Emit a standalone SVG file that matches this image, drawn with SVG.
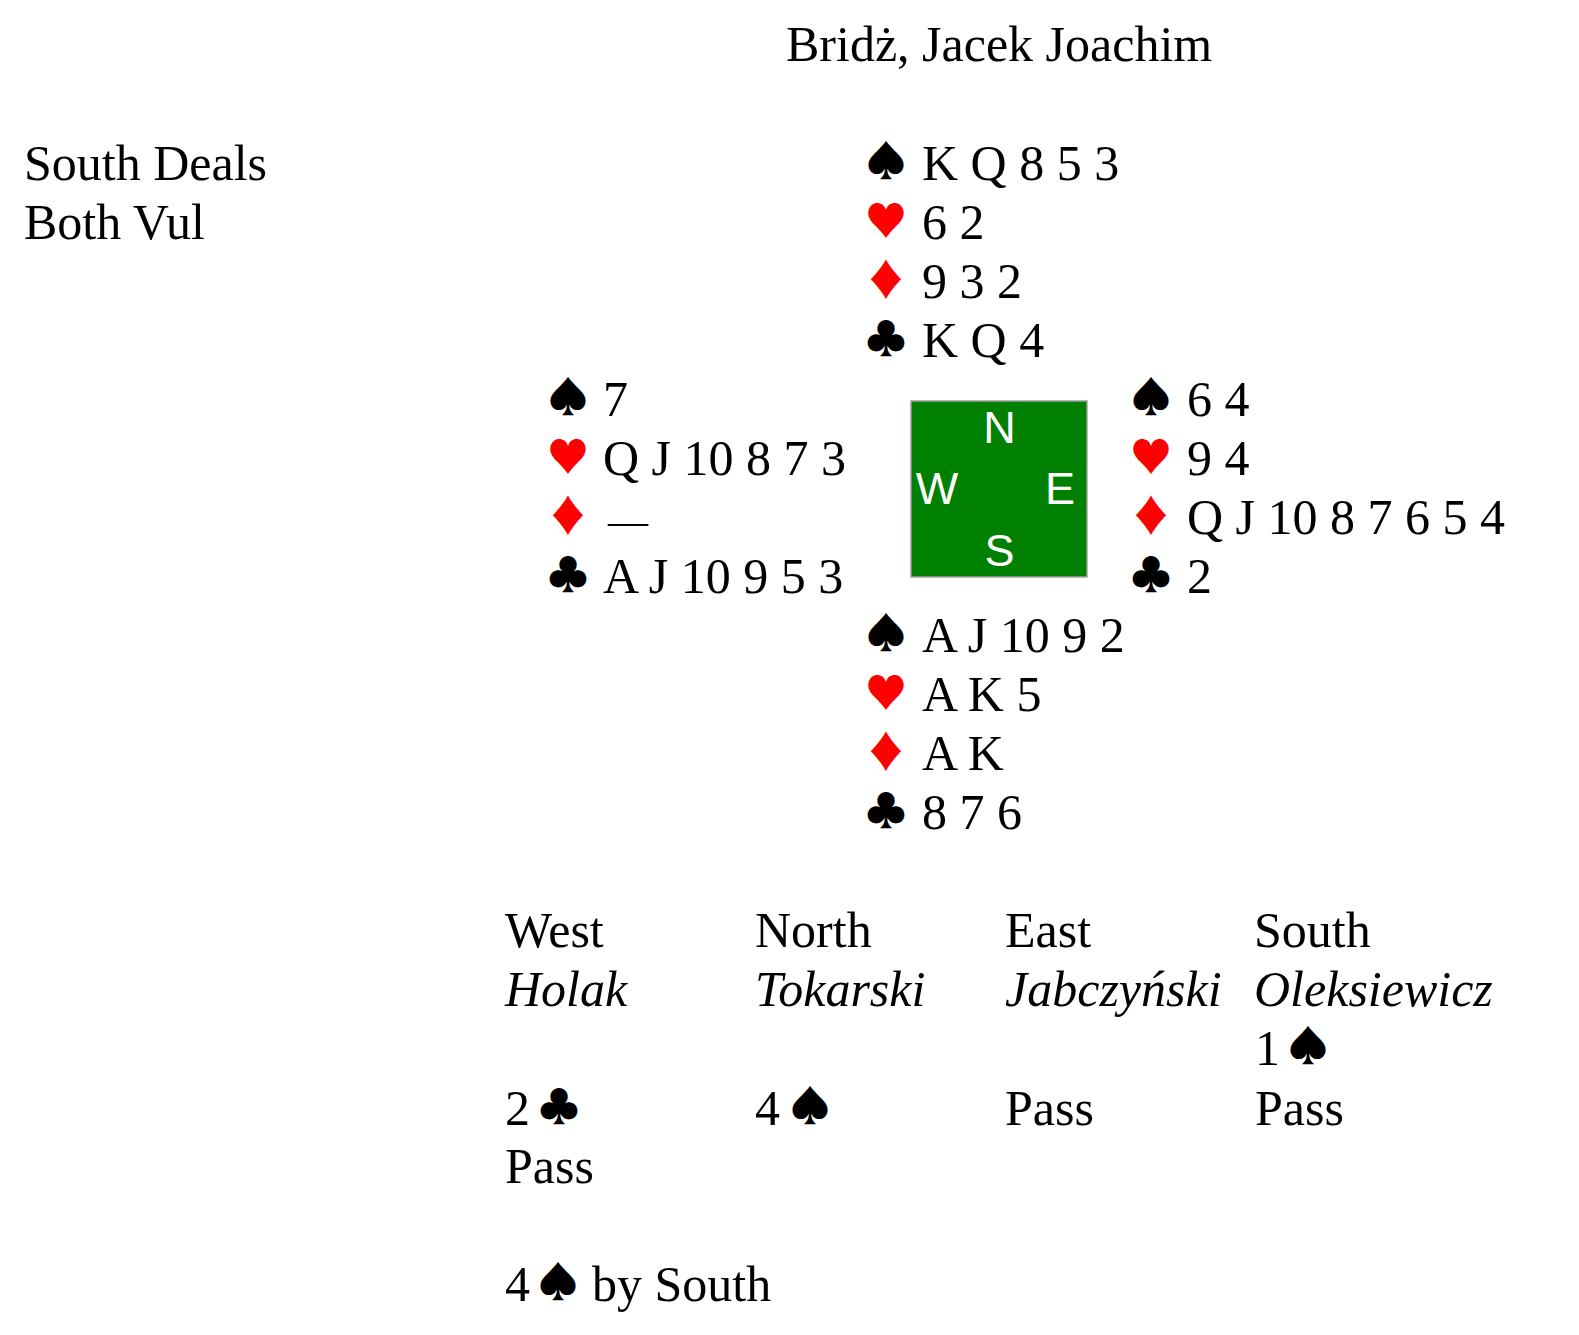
<svg xmlns="http://www.w3.org/2000/svg" width="1579" height="1335" viewBox="0 0 1579 1335">
<style>
text{font-family:"Liberation Serif","DejaVu Serif",serif;font-size:50px;fill:#000}
.r{fill:#ff0000}
.s{font-family:"Noto Sans CJK JP","DejaVu Sans",sans-serif;font-size:42px;text-anchor:middle}
.i{font-style:italic}
.c{font-family:"Liberation Sans",Arial,sans-serif;font-size:45px;fill:#fff;text-anchor:middle}
</style>
<rect width="1579" height="1335" fill="#fff"/>
<g id="title"><text x="786" y="61">Bridż, Jacek Joachim</text></g>
<g id="deal-info">
<text x="24" y="180">South Deals</text>
<text x="24" y="239">Both Vul</text>
</g>
<g id="north">
<text class="s" x="886" y="177">♠</text><text x="922" y="180">K Q 8 5 3</text>
<text class="s r" x="886" y="236">♥</text><text x="922" y="239">6 2</text>
<text class="s r" x="886" y="295">♦</text><text x="922" y="298">9 3 2</text>
<text class="s" x="886" y="354">♣</text><text x="922" y="357">K Q 4</text>
</g>
<g id="west">
<text class="s" x="568" y="413">♠</text><text x="603" y="416">7</text>
<text class="s r" x="568" y="472">♥</text><text x="603" y="475">Q J 10 8 7 3</text>
<text class="s r" x="568" y="531">♦</text><text x="608" y="534" style="font-size:40px">—</text>
<text class="s" x="568" y="590">♣</text><text x="603" y="593">A J 10 9 5 3</text>
</g>
<g id="east">
<text class="s" x="1151" y="413">♠</text><text x="1187" y="416">6 4</text>
<text class="s r" x="1151" y="472">♥</text><text x="1187" y="475">9 4</text>
<text class="s r" x="1151" y="531">♦</text><text x="1187" y="534">Q J 10 8 7 6 5 4</text>
<text class="s" x="1151" y="590">♣</text><text x="1187" y="593">2</text>
</g>
<g id="south">
<text class="s" x="886" y="649">♠</text><text x="922" y="652">A J 10 9 2</text>
<text class="s r" x="886" y="708">♥</text><text x="922" y="711">A K 5</text>
<text class="s r" x="886" y="767">♦</text><text x="922" y="770">A K</text>
<text class="s" x="886" y="826">♣</text><text x="922" y="829">8 7 6</text>
</g>
<g id="compass">
<rect x="911" y="401" width="176" height="176" fill="#008000" stroke="#a0a0a0" stroke-width="1.5"/>
<text class="c" x="999.5" y="443">N</text>
<text class="c" x="937" y="504">W</text>
<text class="c" x="1060" y="504">E</text>
<text class="c" x="999.5" y="566">S</text>
</g>
<g id="auction">
<text x="505" y="947">West</text>
<text x="755" y="947">North</text>
<text x="1005" y="947">East</text>
<text x="1254" y="947">South</text>
<text class="i" x="505" y="1006">Holak</text>
<text class="i" x="755" y="1006">Tokarski</text>
<text class="i" x="1005" y="1006">Jabczyński</text>
<text class="i" x="1254" y="1006">Oleksiewicz</text>
<text x="1255" y="1065">1</text><text class="s" x="1308" y="1062">♠</text>
<text x="505" y="1125">2</text><text class="s" x="559" y="1122">♣</text>
<text x="755" y="1125">4</text><text class="s" x="810" y="1122">♠</text>
<text x="1005" y="1125">Pass</text>
<text x="1255" y="1125">Pass</text>
<text x="505" y="1183">Pass</text>
</g>
<g id="contract">
<text x="505" y="1301">4</text><text class="s" x="558" y="1298">♠</text><text x="592" y="1301">by South</text>
</g>
</svg>
